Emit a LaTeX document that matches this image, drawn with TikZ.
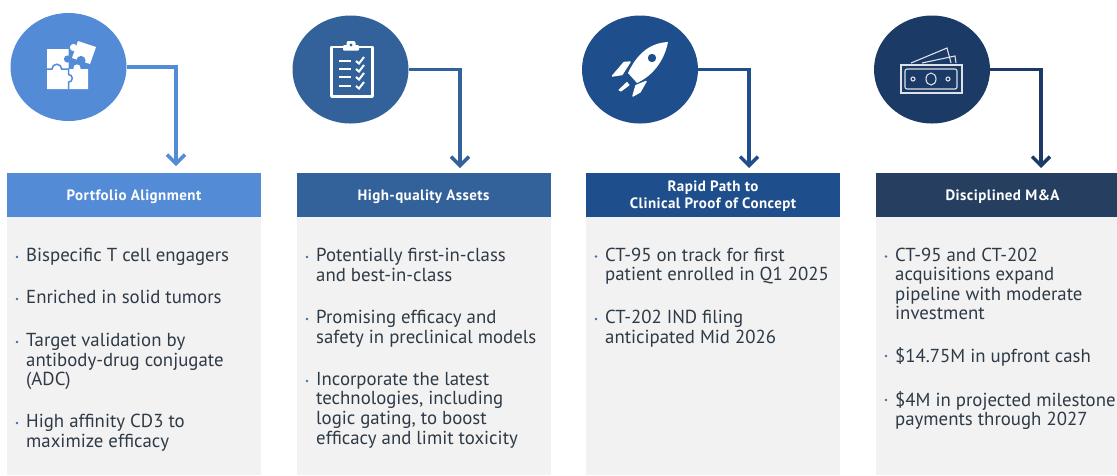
\documentclass[tikz,border=0pt]{standalone}
\usepackage{fontspec}
\setmainfont{PT Sans}
\usetikzlibrary{arrows.meta,calc,shapes.geometric}
\definecolor{cA}{HTML}{548BD6}
\definecolor{cB}{HTML}{336199}
\definecolor{cC}{HTML}{1F4E8C}
\definecolor{cD}{HTML}{1B3A66}
\definecolor{hD}{HTML}{263F61}
\definecolor{panelgray}{HTML}{F2F2F2}
\definecolor{bodytext}{HTML}{2E3A46}
\definecolor{bulletblue}{HTML}{3F6FA8}
\tikzset{
  x=1pt,y=-1pt,
  disc/.style={ellipse,minimum width=116pt,minimum height=108pt,inner sep=0pt,fill=#1,draw=none},
  head/.style={rectangle,minimum height=44pt,inner sep=0pt,fill=#1},
  headtext/.style={inner sep=0pt,text=white,align=center,
     font=\fontsize{15}{17}\selectfont\bfseries\addfontfeatures{LetterSpace=3}},
  panel/.style={rectangle,anchor=north west,inner sep=0pt,fill=panelgray},
  link/.style={draw=#1,line width=3.4pt,-{Straight Barb[length=9pt,width=18pt,line width=3.4pt]}},
  itemtext/.style={anchor=north west,inner sep=0pt,align=left,text=bodytext,
     font=\fontsize{18.8}{19.6}\selectfont},
  dotmark/.style={circle,fill=bulletblue,inner sep=0pt,minimum size=2.6pt},
  iconline/.style={draw=white,line width=#1,fill=none},
}
\newcommand{\bulleted}[4]{% name, x, baseline y, text
  \node[itemtext] (#1) at (#2,#3-14) {#4};
  \node[dotmark] (#1d) at (#2-9,#3-5) {};
}
\begin{document}
\begin{tikzpicture}
\useasboundingbox (0,0) rectangle (1117,475);
\fill[white] (0,0) rectangle (1117,475);
% panels
\node[panel,minimum width=254pt,minimum height=258pt] (p1) at (7,217) {};
\node[panel,minimum width=254pt,minimum height=258pt] (p2) at (296.5,217) {};
\node[panel,minimum width=254pt,minimum height=258pt] (p3) at (586,217) {};
\node[panel,minimum width=241.5pt,minimum height=258pt] (p4) at (875.5,217) {};
% headers
\node[head=cA,minimum width=254pt] (h1) at (134,195) {};
\node[head=cB,minimum width=254pt] (h2) at (423.5,195) {};
\node[head=cC,minimum width=254pt] (h3) at (713,195) {};
\node[head=hD,minimum width=241.5pt] (h4) at (996.25,195) {};
\node[headtext] (h1t) at (134,196.5) {Portfolio Alignment};
\node[headtext] (h2t) at (423.5,196.5) {High-quality Assets};
\node[headtext] (h3t) at (713,196.5) {Rapid Path to\\Clinical Proof of Concept};
\node[headtext] (h4t) at (1002.5,196.5) {Disciplined M\&A};
% discs
\node[disc=cA] (c1) at (68.5,67) {};
\node[disc=cB] (c2) at (350.5,69.5) {};
\node[disc=cC] (c3) at (640,69.5) {};
\node[disc=cD] (c4) at (932,69.5) {};
% connector ends
\coordinate (t1) at (176,166);
\coordinate (t2) at (460,168);
\coordinate (t3) at (749,168);
\coordinate (t4) at (1041,168);
\draw[link=cA] (c1.east) -| (t1);
\draw[link=cB] (c2.east) -| (t2);
\draw[link=cC] (c3.east) -| (t3);
\draw[link=cD] (c4.east) -| (t4);
% puzzle icon
\fill[white] (47,49) -- (68.5,49) -- (68.5,69) -- (88,69) -- (88,89) -- (47,89) -- cycle;
\fill[white] (77,68) circle (3.6);
\fill[cA] (67.5,59) circle (3.6);
\draw[cA,line width=1.5pt] (47,69) -- (52,69) arc[start angle=180,end angle=360,radius=4.8] -- (68.5,69) -- (68.5,74.5) arc[start angle=-90,end angle=90,radius=3.8] -- (68.5,89);
\fill[white] (78,41) -- (96,47) -- (90,64) -- (72,58) -- cycle;
\fill[white] (73.5,47.5) circle (3.6);
\fill[cA] (81,60.5) circle (4.6);
% clipboard icon
\draw[iconline=2.6pt,line join=round] (331.5,47) rectangle (372.5,96.5);
\fill[white,rounded corners=1pt] (343,45) rectangle (359,50.5);
\fill[white,rounded corners=2pt] (346.5,41) rectangle (355.5,47);
\fill[cB] (351,45) circle (1.6);
\foreach \yy in {61,69,77,86}{
  \draw[iconline=2.6pt] (339,\yy) -- (351,\yy);
  \draw[iconline=2pt] (356,\yy) -- (359,\yy+2.5) -- (364,\yy-4);
}
% rocket icon
\fill[white,even odd rule] (668,42) .. controls (648,43) and (636,56) .. (628,73) -- (637,83) .. controls (652,76) and (664,62) .. (668,42) (652,58) circle (4.3);
\filldraw[white,line width=1.4pt,line join=round] (612.5,76) -- (624,62.5) -- (630,62) -- (622,74.5) -- cycle;
\filldraw[white,line width=1.4pt,line join=round] (633,96) -- (636,85.5) -- (646,81.5) -- (640,92) -- cycle;
\filldraw[white,line width=1pt,line join=round] (619,90) -- (627,82.5) -- (629,85) -- (621,91) -- cycle;
% money icon
\begin{scope}[draw=white!85!cD,line width=1.1pt]
\draw (901,65) rectangle (962,93);
\draw[rounded corners=2pt] (905,69) rectangle (957,89);
\draw (931,79) ellipse (5 and 6);
\draw (913,79) circle (2);
\draw (948,79) circle (2);
\draw (911,63) -- (947,48) -- (951,63);
\draw (922,63) -- (955,56) -- (956,63);
\end{scope}
% column 1
\bulleted{a1}{26}{262}{Bispecific T cell engagers}
\bulleted{a2}{26}{304}{Enriched in solid tumors}
\bulleted{a3}{26}{347}{Target validation by\\antibody-drug conjugate\\(ADC)}
\bulleted{a4}{26}{428}{High affinity CD3 to\\maximize efficacy}
% column 2
\bulleted{b1}{316}{262}{Potentially first-in-class\\and best-in-class}
\bulleted{b2}{316}{324}{Promising efficacy and\\safety in preclinical models}
\bulleted{b3}{316}{386}{Incorporate the latest\\technologies, including\\logic gating, to boost\\efficacy and limit toxicity}
% column 3
\bulleted{d1}{605}{261.5}{CT-95 on track for first\\patient enrolled in Q1 2025}
\bulleted{d2}{605}{324}{CT-202 IND filing\\anticipated Mid 2026}
% column 4
\bulleted{e1}{895}{261.5}{CT-95 and CT-202\\acquisitions expand\\pipeline with moderate\\investment}
\bulleted{e2}{895}{361}{\$14.75M in upfront cash}
\bulleted{e3}{895}{405}{\$4M in projected milestone\\payments through 2027}
\end{tikzpicture}
\end{document}
